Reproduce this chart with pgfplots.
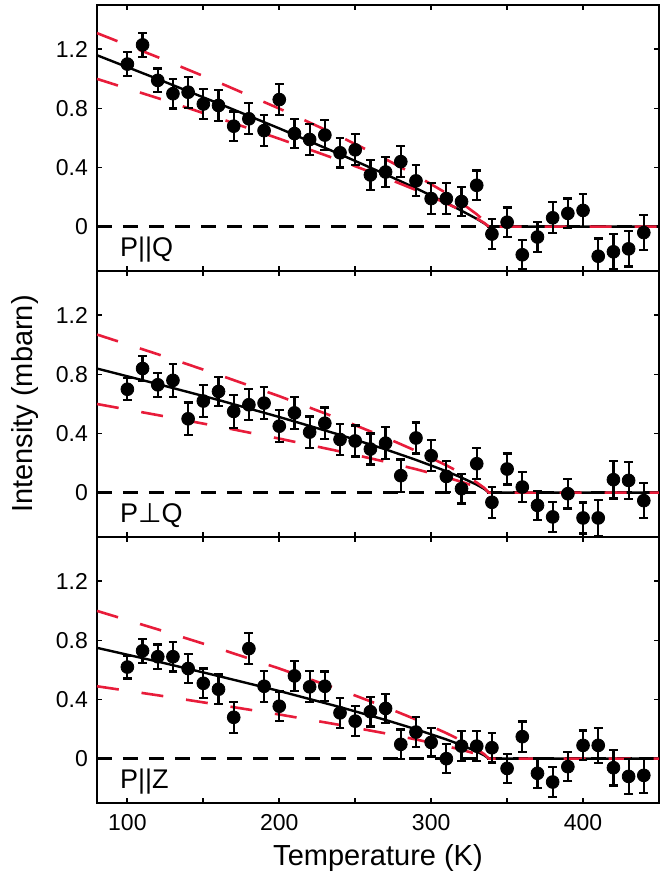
\documentclass[border=0pt]{standalone}
\usepackage{fontspec}
\setmainfont{Liberation Sans}
\newfontfamily\symfont{DejaVu Sans}
\usepackage{pgfplots}
\usepackage{pgfplotstable}
\pgfplotsset{compat=1.18}
\usepgfplotslibrary{groupplots}

\definecolor{fitred}{RGB}{232,28,58}

% T (K), intensity (mbarn), error
\pgfplotstableread{
T I E
100 1.10 0.080
110 1.23 0.083
120 0.99 0.080
130 0.90 0.100
140 0.91 0.105
150 0.83 0.100
160 0.82 0.105
170 0.68 0.100
180 0.73 0.105
190 0.65 0.105
200 0.86 0.107
210 0.63 0.100
220 0.59 0.105
230 0.62 0.100
240 0.50 0.100
250 0.52 0.105
260 0.35 0.100
270 0.37 0.100
280 0.44 0.105
290 0.31 0.105
300 0.19 0.105
310 0.19 0.105
320 0.17 0.100
330 0.28 0.100
340 -0.05 0.100
350 0.03 0.100
360 -0.19 0.100
370 -0.07 0.100
380 0.06 0.105
390 0.09 0.100
400 0.11 0.110
410 -0.20 0.120
420 -0.17 0.120
430 -0.15 0.120
440 -0.04 0.120
}\dataPQ

\pgfplotstableread{
T I E
100 0.70 0.075
110 0.84 0.087
120 0.73 0.080
130 0.76 0.110
140 0.50 0.110
150 0.62 0.107
160 0.685 0.100
170 0.55 0.110
180 0.595 0.105
190 0.606 0.107
200 0.45 0.108
210 0.54 0.107
220 0.41 0.105
230 0.47 0.107
240 0.36 0.105
250 0.35 0.105
260 0.295 0.105
270 0.335 0.107
280 0.115 0.110
290 0.37 0.105
300 0.25 0.105
310 0.11 0.107
320 0.027 0.100
330 0.196 0.105
340 -0.065 0.105
350 0.16 0.105
360 0.038 0.100
370 -0.086 0.100
380 -0.164 0.100
390 -0.007 0.100
400 -0.171 0.105
410 -0.171 0.120
420 0.088 0.127
430 0.083 0.125
440 -0.054 0.120
}\dataPperpQ

\pgfplotstableread{
T I E
100 0.62 0.077
110 0.73 0.082
120 0.69 0.082
130 0.69 0.100
140 0.61 0.100
150 0.51 0.100
160 0.47 0.100
170 0.28 0.105
180 0.745 0.103
190 0.49 0.105
200 0.355 0.100
210 0.56 0.103
220 0.486 0.105
230 0.49 0.100
240 0.31 0.100
250 0.254 0.100
260 0.318 0.100
270 0.34 0.100
280 0.097 0.100
290 0.18 0.100
300 0.11 0.095
310 0.00 0.097
320 0.085 0.100
330 0.085 0.100
340 0.074 0.100
350 -0.066 0.097
360 0.149 0.103
370 -0.099 0.100
380 -0.158 0.100
390 -0.054 0.098
400 0.09 0.100
410 0.09 0.120
420 -0.061 0.120
430 -0.12 0.120
440 -0.113 0.118
}\dataPZ

\pgfplotsset{
  zeroline/.style={black, line width=1.4pt, dash pattern=on 7.5pt off 5.5pt, forget plot},
  fitline/.style={black, line width=1.2pt, forget plot},
  boundline/.style={fitred, line width=1.3pt, dash pattern=on 11pt off 11.5pt, forget plot},
  datapts/.style={only marks, mark=*, mark size=3.2pt, black,
    mark options={fill=black, draw=black},
    error bars/.cd, y dir=both, y explicit,
    error bar style={line width=1.1pt, black},
    error mark options={rotate=90, mark size=2.2pt, line width=1.1pt, black}},
}

\begin{document}
\begin{tikzpicture}
\begin{groupplot}[
  group style={group name=G, group size=1 by 3, vertical sep=0pt,
               xticklabels at=edge bottom},
  scale only axis, width=281pt, height=133pt,
  xmin=80, xmax=450, ymin=-0.3, ymax=1.5,
  xtick={100,150,...,400}, xticklabels={100,,200,,300,,400},
  ytick={0,0.4,0.8,1.2}, yticklabels={0,0.4,0.8,1.2},
  tick align=inside, tick pos=both, major tick length=2.5pt,
  tick style={black, line width=0.9pt},
  axis line style={black, line width=1pt},
  tick label style={font=\fontsize{11.5}{13}\selectfont},
  yticklabel style={xshift=-1pt},
  xticklabel style={yshift=-2pt},
]
% ---- P||Q
\nextgroupplot
\addplot[zeroline] coordinates {(80,0) (450,0)};
\addplot[fitline] coordinates {(80,1.16)(120,0.999)(160,0.834)(200,0.665)(240,0.490)(270,0.354)(290,0.260)(310,0.161)(320,0.108)(330,0.053)(335,0.022)(338,0)(450,0)};
\addplot[boundline] coordinates {(80,1.31)(120,1.147)(160,0.977)(200,0.799)(240,0.610)(270,0.457)(290,0.347)(310,0.227)(320,0.160)(330,0.084)(335,0.039)(338,0)(450,0)};
\addplot[boundline] coordinates {(80,1.00)(120,0.870)(160,0.735)(200,0.595)(240,0.448)(270,0.331)(290,0.248)(310,0.158)(320,0.110)(330,0.056)(335,0.025)(338,0)};
\addplot[datapts] table[x=T, y=I, y error=E] {\dataPQ};
\node[anchor=base west, inner sep=0pt, font=\fontsize{13.5}{15}\selectfont] at (axis cs:95,-0.205) {P||Q};
% ---- P perp Q
\nextgroupplot
\addplot[zeroline] coordinates {(80,0) (450,0)};
\addplot[fitline] coordinates {(80,0.84)(120,0.735)(160,0.627)(200,0.512)(240,0.391)(270,0.293)(290,0.222)(310,0.145)(320,0.102)(330,0.054)(335,0.025)(338,0)(450,0)};
\addplot[boundline] coordinates {(80,1.07)(120,0.937)(160,0.798)(200,0.653)(240,0.498)(270,0.373)(290,0.283)(310,0.185)(320,0.131)(330,0.069)(335,0.032)(338,0)(450,0)};
\addplot[boundline] coordinates {(80,0.60)(120,0.525)(160,0.448)(200,0.366)(240,0.279)(270,0.209)(290,0.159)(310,0.104)(320,0.073)(330,0.039)(335,0.018)(338,0)};
\addplot[datapts] table[x=T, y=I, y error=E] {\dataPperpQ};
\node[anchor=base west, inner sep=0pt, font=\fontsize{13.5}{15}\selectfont] at (axis cs:95,-0.205) {P{\symfont ⊥}Q};
% ---- P||Z
\nextgroupplot
\addplot[zeroline] coordinates {(80,0) (450,0)};
\addplot[fitline] coordinates {(80,0.75)(120,0.657)(160,0.559)(200,0.458)(240,0.349)(270,0.262)(290,0.199)(310,0.130)(320,0.092)(330,0.048)(335,0.022)(338,0)(450,0)};
\addplot[boundline] coordinates {(80,1.00)(120,0.875)(160,0.746)(200,0.610)(240,0.466)(270,0.349)(290,0.265)(310,0.173)(320,0.122)(330,0.064)(335,0.030)(338,0)(450,0)};
\addplot[boundline] coordinates {(80,0.49)(120,0.429)(160,0.365)(200,0.299)(240,0.228)(270,0.171)(290,0.130)(310,0.085)(320,0.060)(330,0.032)(335,0.015)(338,0)};
\addplot[datapts] table[x=T, y=I, y error=E] {\dataPZ};
\node[anchor=base west, inner sep=0pt, font=\fontsize{13.5}{15}\selectfont] at (axis cs:95,-0.205) {P||Z};
\end{groupplot}
\node[rotate=90, font=\fontsize{14.5}{17}\selectfont] at ([xshift=-36pt]G c1r2.west) {Intensity (mbarn)};
\node[font=\fontsize{14.5}{17}\selectfont] at ([yshift=-27.5pt]G c1r3.south) {Temperature (K)};
\pgfresetboundingbox
\path[use as bounding box] ([xshift=-48.5pt, yshift=2.5pt]G c1r1.north west) rectangle ([xshift=5pt, yshift=-37pt]G c1r3.south east);
\end{tikzpicture}
\end{document}
